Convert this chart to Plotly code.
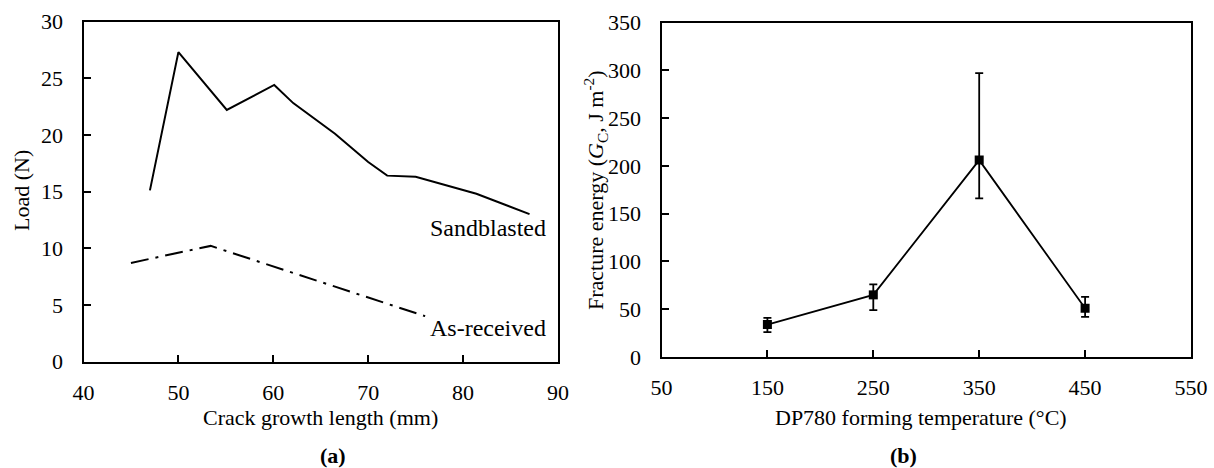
import plotly.graph_objects as go

# (a) load vs crack growth length
crack_sand = [47.0, 50.0, 55.1, 60.1, 62.1, 66.5, 70.0, 72.0, 75.0, 81.4, 87.0]
load_sand = [15.1, 27.3, 22.2, 24.4, 22.8, 20.1, 17.6, 16.4, 16.3, 14.8, 13.0]
crack_asrec = [45.0, 53.4, 76.0]
load_asrec = [8.7, 10.2, 4.0]

# (b) fracture energy vs forming temperature
temps = [150, 250, 350, 450]
energy = [34, 65, 206, 51]
err_plus = [7, 11, 91, 12]
err_minus = [8, 16, 40, 9]

W, H = 1214, 468
FONT = "Liberation Serif"


def px_x(v):
    return v / W


def px_y(v):
    return 1 - v / H


fig = go.Figure()

fig.add_trace(go.Scatter(x=crack_sand, y=load_sand, mode="lines",
                         line=dict(color="black", width=2),
                         xaxis="x", yaxis="y", showlegend=False))
fig.add_trace(go.Scatter(x=crack_asrec, y=load_asrec, mode="lines",
                         line=dict(color="black", width=2, dash="18px,7px,3px,7px"),
                         xaxis="x", yaxis="y", showlegend=False))

fig.add_trace(go.Scatter(x=temps, y=energy, mode="lines+markers",
                         line=dict(color="black", width=1.8),
                         marker=dict(symbol="square", size=9, color="black"),
                         error_y=dict(type="data", symmetric=False,
                                      array=err_plus, arrayminus=err_minus,
                                      color="black", thickness=1.8, width=4),
                         xaxis="x2", yaxis="y2", showlegend=False))

axis_common = dict(showline=True, linecolor="black", linewidth=2, mirror=True,
                   ticks="inside", ticklen=7, tickwidth=2, tickcolor="black",
                   showgrid=False, zeroline=False, automargin=False,
                   tickfont=dict(family=FONT, size=22, color="black"))

fig.update_layout(
    width=W, height=H,
    margin=dict(l=0, r=0, t=0, b=0),
    paper_bgcolor="white", plot_bgcolor="white",
    font=dict(family=FONT, size=22, color="black"),
    xaxis=dict(domain=[px_x(83.5), px_x(558)], range=[40, 90], dtick=10,
               anchor="y", ticklabelstandoff=10, **axis_common),
    yaxis=dict(domain=[px_y(361.5), px_y(21.5)], range=[0, 30], dtick=5,
               anchor="x", ticklabelstandoff=14, **axis_common),
    xaxis2=dict(domain=[px_x(661.5), px_x(1191)], range=[50, 550], dtick=100,
                tick0=50, anchor="y2", ticklabelstandoff=10, **axis_common),
    yaxis2=dict(domain=[px_y(357), px_y(22.5)], range=[0, 350], dtick=50,
                anchor="x2", ticklabelstandoff=14, **axis_common),
)

notes = [
    dict(text="Sandblasted", x=88.9, y=11.8, xref="x", yref="y",
         xanchor="right", yanchor="middle", font=dict(size=24)),
    dict(text="As-received", x=88.9, y=2.96, xref="x", yref="y",
         xanchor="right", yanchor="middle", font=dict(size=24)),
    dict(text="Crack growth length (mm)", x=px_x(321), y=px_y(417),
         xref="paper", yref="paper", xanchor="center", yanchor="middle"),
    dict(text="DP780 forming temperature (°C)", x=px_x(921), y=px_y(417),
         xref="paper", yref="paper", xanchor="center", yanchor="middle"),
    dict(text="Load (N)", x=px_x(21), y=px_y(191), textangle=-90,
         xref="paper", yref="paper", xanchor="center", yanchor="middle"),
    dict(text="Fracture energy (<i>G</i><sub>C</sub>, J m<sup>-2</sup>)",
         x=px_x(595), y=px_y(190), textangle=-90,
         xref="paper", yref="paper", xanchor="center", yanchor="middle"),
    dict(text="<b>(a)</b>", x=px_x(333), y=px_y(455),
         xref="paper", yref="paper", xanchor="center", yanchor="middle"),
    dict(text="<b>(b)</b>", x=px_x(903), y=px_y(455),
         xref="paper", yref="paper", xanchor="center", yanchor="middle"),
]
for n in notes:
    n["showarrow"] = False
    fig.add_annotation(**n)

# drop the browser's default page margin so the figure sits at the window's corner
fig.write_html("out.html", config={"displayModeBar": False},
               post_script="document.body.style.margin='0';")
